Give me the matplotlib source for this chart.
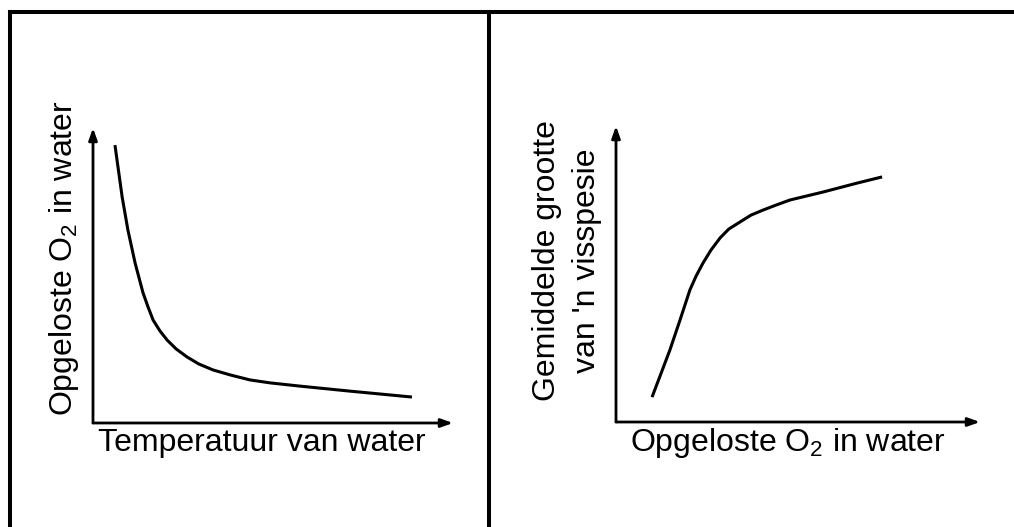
import matplotlib
matplotlib.use("Agg")
import matplotlib.pyplot as plt
from matplotlib.lines import Line2D

plt.rcParams["font.family"] = ["Liberation Sans", "DejaVu Sans"]
plt.rcParams["mathtext.fontset"] = "custom"
plt.rcParams["mathtext.rm"] = "Liberation Sans"
plt.rcParams["mathtext.default"] = "regular"

# left panel: dissolved O2 vs water temperature (arbitrary units 0-100)
temp = [6.1, 8.1, 9.7, 11.7, 13.9, 15.3, 16.7, 18.6, 20.6, 23.1, 26.1, 29.4,
        33.3, 38.1, 43.6, 49.2, 57.5, 71.4, 88.6]
o2 = [94.2, 76.6, 65.4, 54.2, 44.1, 39.3, 34.9, 31.2, 28.1, 25.1, 22.4, 20.0,
      18.0, 16.3, 14.6, 13.6, 12.5, 10.8, 8.8]

# right panel: mean fish size vs dissolved O2
o2_x = [9.9, 14.8, 17.6, 20.3, 22.0, 23.9, 26.1, 28.6, 31.0, 34.1, 37.1, 40.4,
        44.0, 47.8, 56.9, 66.2, 73.1]
size = [8.4, 24.3, 34.5, 44.6, 49.3, 53.7, 58.1, 62.2, 65.2, 67.6, 69.9, 71.6,
        73.3, 75.0, 77.7, 80.7, 82.8]

left_xlabel = "Temperatuur van water"
left_ylabel = "Opgeloste O$_2$ in water"
right_xlabel = "Opgeloste O$_2$ in water"
right_ylabel = ["Gemiddelde grootte", "van 'n visspesie"]

W, H = 1014, 527
fig = plt.figure(figsize=(W / 100, H / 100), dpi=100)


def px(x, y):
    return x / W, 1 - y / H


# table border lines
lw_border = 2.9
x0, ytop = px(9.5, 12)
fig.add_artist(Line2D([x0, x0], [0, ytop], color="black", lw=lw_border))
fig.add_artist(Line2D([x0, 1], [ytop, ytop], color="black", lw=lw_border))
xd, _ = px(489, 0)
fig.add_artist(Line2D([xd, xd], [0, ytop], color="black", lw=lw_border))


def make_axes(left, top, right, bottom):
    l, b = px(left, bottom)
    r, t = px(right, top)
    ax = fig.add_axes([l, b, r - l, t - b])
    ax.set_xlim(0, 100)
    ax.set_ylim(0, 100)
    ax.set_axis_off()
    arrow = dict(arrowstyle="-|>,head_length=0.7,head_width=0.25", color="black",
                 lw=2.0, shrinkA=0, shrinkB=0)
    ax.annotate("", xy=(1, 0), xytext=(0, 0), xycoords="axes fraction",
                arrowprops=arrow)
    ax.annotate("", xy=(0, 1), xytext=(0, 0), xycoords="axes fraction",
                arrowprops=arrow)
    return ax


ax1 = make_axes(93, 128, 453, 423)
ax1.plot(temp, o2, color="black", lw=2.2, solid_capstyle="butt",
         solid_joinstyle="round")

ax2 = make_axes(616, 126, 980, 422)
ax2.plot(o2_x, size, color="black", lw=2.2, solid_capstyle="butt",
         solid_joinstyle="round")

fs = 23
fig.text(*px(64, 258), left_ylabel, rotation=90, ha="center", va="center", fontsize=fs)
fig.text(*px(262, 443), left_xlabel, ha="center", va="center", fontsize=fs)
fig.text(*px(547, 261), right_ylabel[0], rotation=90, ha="center", va="center", fontsize=fs)
fig.text(*px(587, 261), right_ylabel[1], rotation=90, ha="center", va="center", fontsize=fs)
fig.text(*px(788, 443), right_xlabel, ha="center", va="center", fontsize=fs)

fig.savefig("out.png", dpi=100, facecolor="white")
